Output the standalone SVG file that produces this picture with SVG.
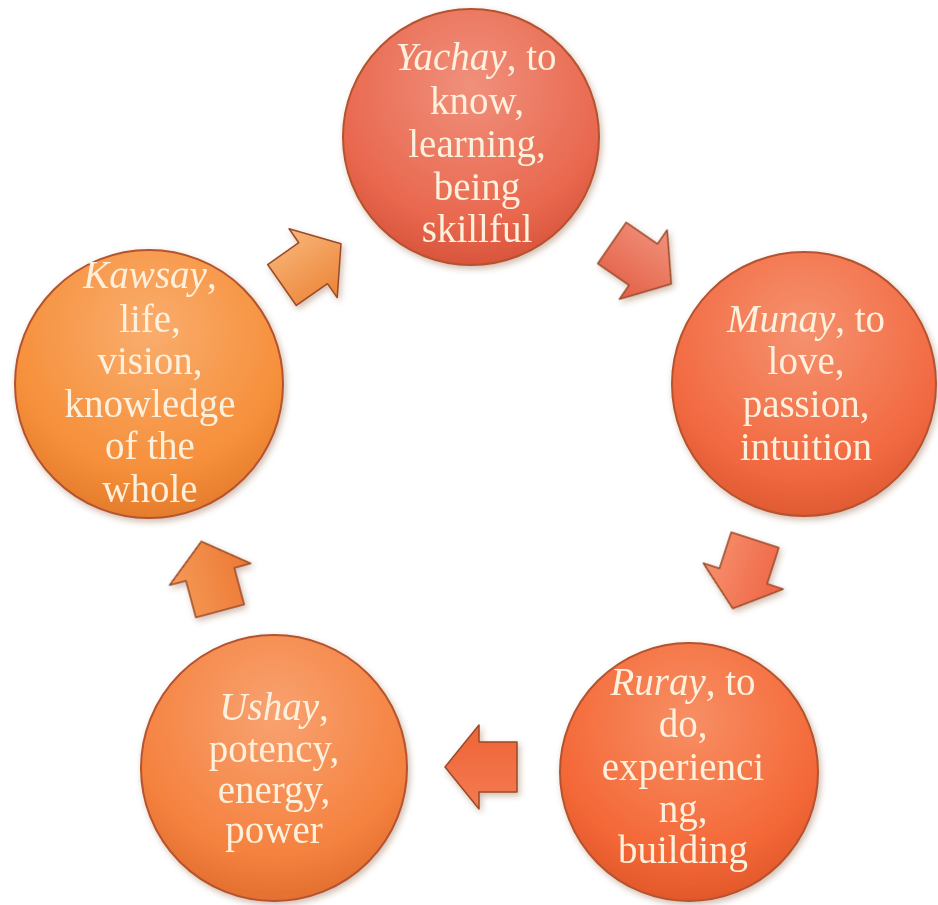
<svg xmlns="http://www.w3.org/2000/svg" width="938" height="905" viewBox="0 0 938 905">
<defs>
<filter id="sh" x="-20%" y="-20%" width="140%" height="140%">
<feDropShadow dx="2" dy="3" stdDeviation="3" flood-color="#7a3a20" flood-opacity="0.35"/>
</filter>
<radialGradient id="gY" cx="0.5" cy="0.3" r="0.7">
<stop offset="0" stop-color="#f0907c"/><stop offset="0.75" stop-color="#e9684f"/><stop offset="1" stop-color="#d9553c"/>
</radialGradient>
<radialGradient id="gM" cx="0.5" cy="0.3" r="0.7">
<stop offset="0" stop-color="#f5926f"/><stop offset="0.75" stop-color="#f26a42"/><stop offset="1" stop-color="#e05a32"/>
</radialGradient>
<radialGradient id="gR" cx="0.5" cy="0.3" r="0.7">
<stop offset="0" stop-color="#f78f64"/><stop offset="0.75" stop-color="#f46838"/><stop offset="1" stop-color="#e2582a"/>
</radialGradient>
<radialGradient id="gU" cx="0.5" cy="0.3" r="0.7">
<stop offset="0" stop-color="#f8a271"/><stop offset="0.75" stop-color="#f5823f"/><stop offset="1" stop-color="#e36f30"/>
</radialGradient>
<radialGradient id="gK" cx="0.5" cy="0.3" r="0.7">
<stop offset="0" stop-color="#f9ad6e"/><stop offset="0.75" stop-color="#f68f3a"/><stop offset="1" stop-color="#e47c2c"/>
</radialGradient>
<linearGradient id="a1" x1="0" y1="0" x2="0" y2="1"><stop offset="0" stop-color="#f8b57a"/><stop offset="1" stop-color="#ec8436"/></linearGradient>
<linearGradient id="a2" x1="0" y1="0" x2="0" y2="1"><stop offset="0" stop-color="#f1927c"/><stop offset="1" stop-color="#e35f46"/></linearGradient>
<linearGradient id="a3" x1="0" y1="0" x2="0" y2="1"><stop offset="0" stop-color="#ee6444"/><stop offset="1" stop-color="#f7906e"/></linearGradient>
<linearGradient id="a4" x1="0" y1="0" x2="0" y2="1"><stop offset="0" stop-color="#f47a52"/><stop offset="1" stop-color="#ef6436"/></linearGradient>
<linearGradient id="a5" x1="0" y1="0" x2="0" y2="1"><stop offset="0" stop-color="#f59a58"/><stop offset="1" stop-color="#ec7832"/></linearGradient>
<path id="arr" d="M0,-25 L38,-25 L38,-42 L72,0 L38,42 L38,25 L0,25 Z"/>
</defs>
<rect width="938" height="905" fill="#ffffff"/>
<g id="connectors" stroke="#9a4a28" stroke-width="1.5" stroke-linejoin="round" filter="url(#sh)">
<use href="#arr" fill="url(#a1)" transform="translate(282,285) rotate(-35)"/>
<use href="#arr" fill="url(#a2)" transform="translate(612,243) rotate(34.6)"/>
<use href="#arr" fill="url(#a3)" transform="translate(755,540) rotate(108)"/>
<use href="#arr" fill="url(#a4)" transform="translate(517,767) rotate(180)"/>
<use href="#arr" fill="url(#a5)" transform="translate(220,611) rotate(-105)"/>
</g>
<g id="yachay">
<circle cx="471" cy="137" r="128" fill="url(#gY)" stroke="#b4532e" stroke-width="2" filter="url(#sh)"/>
<g font-family="Liberation Serif" font-size="39" fill="#fdf0dc" text-anchor="middle">
<text x="476" y="70"><tspan font-style="italic">Yachay</tspan>, to</text>
<text x="477" y="114">know,</text>
<text x="477" y="157">learning,</text>
<text x="477" y="200">being</text>
<text x="477" y="242">skillful</text>
</g>
</g>
<g id="munay">
<circle cx="804" cy="384" r="132" fill="url(#gM)" stroke="#b4532e" stroke-width="2" filter="url(#sh)"/>
<g font-family="Liberation Serif" font-size="39" fill="#fdf0dc" text-anchor="middle">
<text x="806" y="332"><tspan font-style="italic">Munay</tspan>, to</text>
<text x="806" y="374">love,</text>
<text x="806" y="417">passion,</text>
<text x="806" y="460">intuition</text>
</g>
</g>
<g id="ruray">
<circle cx="689" cy="772" r="129" fill="url(#gR)" stroke="#b4532e" stroke-width="2" filter="url(#sh)"/>
<g font-family="Liberation Serif" font-size="39" fill="#fdf0dc" text-anchor="middle">
<text x="683" y="695"><tspan font-style="italic">Ruray</tspan>, to</text>
<text x="683" y="737">do,</text>
<text x="683" y="780">experienci</text>
<text x="683" y="822">ng,</text>
<text x="683" y="863">building</text>
</g>
</g>
<g id="ushay">
<circle cx="274" cy="768" r="133" fill="url(#gU)" stroke="#b4532e" stroke-width="2" filter="url(#sh)"/>
<g font-family="Liberation Serif" font-size="39" fill="#fdf0dc" text-anchor="middle">
<text x="274" y="720"><tspan font-style="italic">Ushay</tspan>,</text>
<text x="274" y="762">potency,</text>
<text x="274" y="803">energy,</text>
<text x="274" y="843">power</text>
</g>
</g>
<g id="kawsay">
<circle cx="149" cy="384" r="134" fill="url(#gK)" stroke="#b4532e" stroke-width="2" filter="url(#sh)"/>
<g font-family="Liberation Serif" font-size="39" fill="#fdf0dc" text-anchor="middle">
<text x="150" y="288"><tspan font-style="italic">Kawsay</tspan>,</text>
<text x="150" y="332">life,</text>
<text x="150" y="374">vision,</text>
<text x="150" y="417">knowledge</text>
<text x="150" y="459">of the</text>
<text x="150" y="502">whole</text>
</g>
</g>
</svg>
